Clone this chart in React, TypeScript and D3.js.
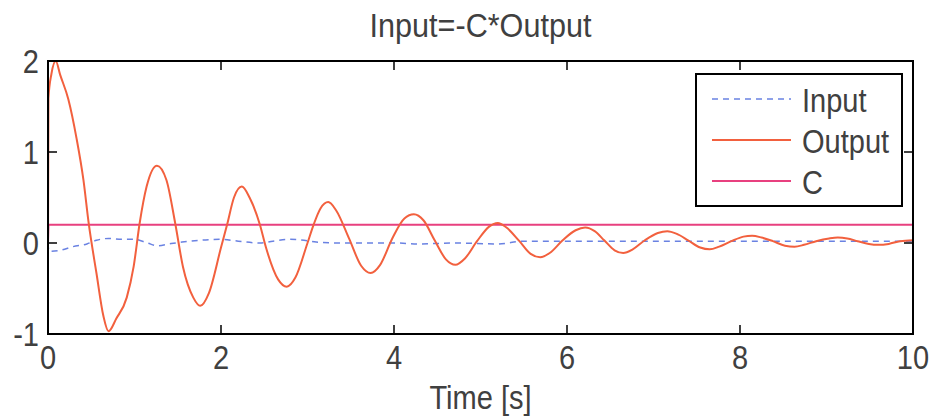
import React from "react";
import * as d3 from "d3";

// ---- data ----
const outputTime = [0, 0.005, 0.04, 0.09, 0.14, 0.235, 0.33, 0.41, 0.47, 0.56, 0.64, 0.7, 0.79, 0.91, 0.99, 1.06, 1.14, 1.26, 1.37, 1.47, 1.56, 1.68, 1.76, 1.86, 2.0, 2.07, 2.15, 2.24, 2.33, 2.45, 2.52, 2.66, 2.76, 2.86, 3.0, 3.07, 3.15, 3.24, 3.33, 3.48, 3.62, 3.73, 3.84, 3.98, 4.12, 4.23, 4.34, 4.47, 4.6, 4.71, 4.82, 4.96, 5.1, 5.2, 5.3, 5.45, 5.58, 5.69, 5.8, 5.95, 6.1, 6.21, 6.32, 6.43, 6.55, 6.65, 6.76, 6.9, 7.05, 7.16, 7.27, 7.4, 7.54, 7.65, 7.76, 7.9, 8.04, 8.14, 8.25, 8.38, 8.52, 8.63, 8.74, 8.88, 9.03, 9.13, 9.24, 9.36, 9.49, 9.59, 9.72, 9.85, 10.0];
const outputValue = [0, 1.59, 1.86, 2.0, 1.85, 1.58, 1.15, 0.69, 0.22, -0.33, -0.8, -0.97, -0.83, -0.6, -0.26, 0.22, 0.62, 0.85, 0.69, 0.22, -0.26, -0.6, -0.69, -0.55, -0.05, 0.2, 0.5, 0.62, 0.5, 0.2, -0.05, -0.4, -0.48, -0.38, 0.0, 0.2, 0.38, 0.45, 0.36, 0.05, -0.25, -0.33, -0.24, 0.05, 0.27, 0.315, 0.25, 0.03, -0.18, -0.24, -0.17, 0.02, 0.18, 0.22, 0.17, 0.02, -0.12, -0.157, -0.11, 0.03, 0.14, 0.17, 0.13, 0.03, -0.08, -0.11, -0.07, 0.03, 0.11, 0.13, 0.1, 0.03, -0.05, -0.07, -0.04, 0.02, 0.07, 0.08, 0.06, 0.02, -0.03, -0.04, -0.02, 0.02, 0.05, 0.06, 0.05, 0.02, -0.01, -0.02, -0.01, 0.02, 0.03];

const inputTime = [0, 0.01, 0.14, 0.29, 0.45, 0.56, 0.7, 0.85, 1.0, 1.15, 1.26, 1.4, 1.55, 1.75, 2.0, 2.2, 2.45, 2.6, 2.8, 2.96, 3.1, 3.4, 3.7, 4.0, 4.3, 4.7, 5.2, 5.5, 6.0, 7.0, 8.0, 9.0, 10.0];
const inputValue = [0, -0.09, -0.08, -0.04, -0.01, 0.03, 0.05, 0.04, 0.04, 0.0, -0.03, -0.01, 0.01, 0.03, 0.04, 0.02, 0.0, 0.02, 0.04, 0.03, 0.01, 0.0, 0.0, 0.0, -0.01, 0.0, -0.01, 0.02, 0.02, 0.02, 0.02, 0.02, 0.02];

const cTime = [0, 0.005, 10];
const cValue = [0, 0.2, 0.2];

const xTicks = [0, 2, 4, 6, 8, 10];
const yTicks = [-1, 0, 1, 2];
const legendLabels = ["Input", "Output", "C"];

const title = "Input=-C*Output";
const xLabel = "Time [s]";

// ---- layout ----
const W = 933;
const H = 419;
const M = { left: 48, right: 913, top: 61, bottom: 334 };
const FONT = "'Liberation Sans', Arial, Helvetica, sans-serif";
const FS = 33;
const SX = 0.88;
const TXT = "#404040";
const COLORS = { input: "#6a82e2", output: "#f2603e", c: "#e8407f" };

function Txt(props: {
  x: number;
  y: number;
  anchor?: "start" | "middle" | "end";
  dy?: string;
  size?: number;
  sx?: number;
  children: React.ReactNode;
}) {
  const { x, y, anchor = "start", dy, size = FS, sx = SX, children } = props;
  return (
    <g transform={`translate(${x},${y}) scale(${sx},1)`}>
      <text x={0} y={0} dy={dy} textAnchor={anchor} fontSize={size} fill={TXT}>
        {children}
      </text>
    </g>
  );
}

export default function App() {
  const x = d3.scaleLinear().domain([0, 10]).range([M.left, M.right]);
  const y = d3.scaleLinear().domain([-1, 2]).range([M.bottom, M.top]);

  const line = d3
    .line<[number, number]>()
    .x((d) => x(d[0]))
    .y((d) => y(d[1]))
    .curve(d3.curveMonotoneX);
  const lineLin = d3
    .line<[number, number]>()
    .x((d) => x(d[0]))
    .y((d) => y(d[1]));

  const outPts = outputTime.map((t, i) => [t, outputValue[i]] as [number, number]);
  const inPts = inputTime.map((t, i) => [t, inputValue[i]] as [number, number]);
  const cPts = cTime.map((t, i) => [t, cValue[i]] as [number, number]);

  const tickLen = 9;
  const legend = { x0: 696, x1: 902, y0: 74, y1: 206 };
  const legendRows = [99, 140, 181];
  const legendStyles = [
    { stroke: COLORS.input, dash: "6,5", w: 1.5 },
    { stroke: COLORS.output, dash: undefined, w: 2 },
    { stroke: COLORS.c, dash: undefined, w: 2 },
  ];

  return (
    <svg
      width={W}
      height={H}
      style={{ position: "absolute", left: 0, top: 0, background: "#fff" }}
      fontFamily={FONT}
    >
      <rect x={0} y={0} width={W} height={H} fill="#fff" />
      {/* title */}
      <Txt x={(M.left + M.right) / 2} y={37} anchor="middle" size={34} sx={0.9}>
        {title}
      </Txt>

      {/* data lines */}
      <path d={lineLin(cPts) || ""} fill="none" stroke={COLORS.c} strokeWidth={2} />
      <path
        d={line(inPts) || ""}
        fill="none"
        stroke={COLORS.input}
        strokeWidth={1.5}
        strokeDasharray="6,5"
      />
      <path d={line(outPts) || ""} fill="none" stroke={COLORS.output} strokeWidth={2} />

      {/* ticks on all sides */}
      {xTicks.map((t) => (
        <g key={"xt" + t}>
          <line x1={x(t)} x2={x(t)} y1={M.bottom} y2={M.bottom - tickLen} stroke="#000" strokeWidth={1.5} />
          <line x1={x(t)} x2={x(t)} y1={M.top} y2={M.top + tickLen} stroke="#000" strokeWidth={1.5} />
          <Txt x={x(t)} y={369} anchor="middle">
            {t}
          </Txt>
        </g>
      ))}
      {yTicks.map((t) => (
        <g key={"yt" + t}>
          <line x1={M.left} x2={M.left + tickLen} y1={y(t)} y2={y(t)} stroke="#000" strokeWidth={1.5} />
          <line x1={M.right} x2={M.right - tickLen} y1={y(t)} y2={y(t)} stroke="#000" strokeWidth={1.5} />
          <Txt x={39} y={y(t)} dy="0.36em" anchor="end">
            {t}
          </Txt>
        </g>
      ))}

      {/* frame */}
      <rect
        x={M.left}
        y={M.top}
        width={M.right - M.left}
        height={M.bottom - M.top}
        fill="none"
        stroke="#000"
        strokeWidth={2}
      />

      {/* legend */}
      <rect
        x={legend.x0}
        y={legend.y0}
        width={legend.x1 - legend.x0}
        height={legend.y1 - legend.y0}
        fill="#fff"
        stroke="#000"
        strokeWidth={2}
      />
      {legendLabels.map((lab, i) => (
        <g key={lab}>
          <line
            x1={712}
            x2={791}
            y1={legendRows[i]}
            y2={legendRows[i]}
            stroke={legendStyles[i].stroke}
            strokeWidth={legendStyles[i].w}
            strokeDasharray={legendStyles[i].dash}
          />
          <Txt x={802} y={legendRows[i]} dy="0.38em">
            {lab}
          </Txt>
        </g>
      ))}

      {/* x label */}
      <Txt x={(M.left + M.right) / 2} y={409} anchor="middle">
        {xLabel}
      </Txt>
    </svg>
  );
}
